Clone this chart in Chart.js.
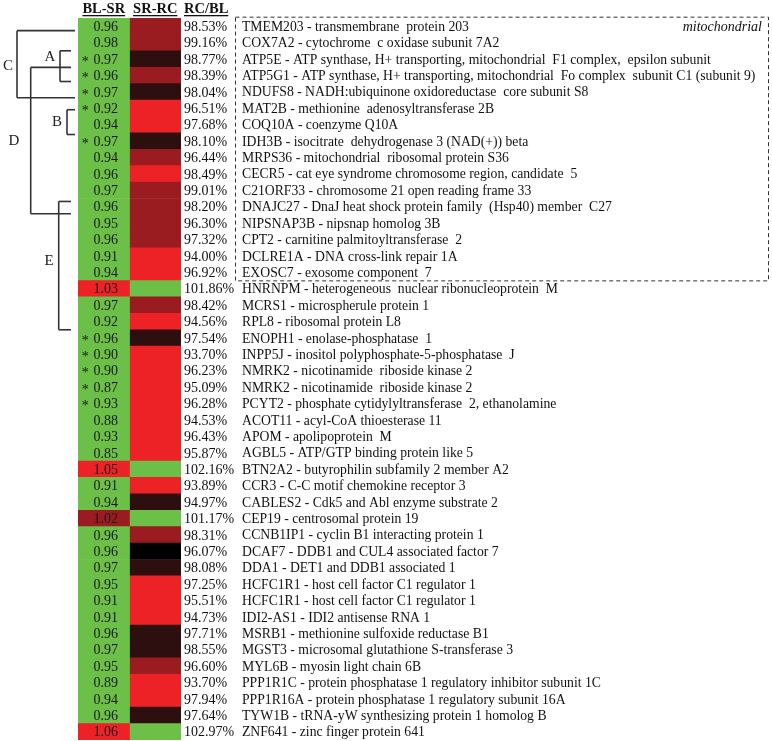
<!DOCTYPE html>
<html>
<head>
<meta charset="utf-8">
<script src="https://cdn.jsdelivr.net/npm/chart.js@4"></script>
<style>
  html, body { margin: 0; padding: 0; background: #fff; }
  #wrap { width: 772px; height: 741px; position: relative; }
</style>
</head>
<body>
<div id="wrap"><canvas id="heatChart" width="772" height="741"></canvas></div>
<script>
// 유전자 기호
const genes = [
  "TMEM203", "COX7A2", "ATP5E", "ATP5G1", "NDUFS8", "MAT2B", "COQ10A", "IDH3B",
  "MRPS36", "CECR5", "C21ORF33", "DNAJC27", "NIPSNAP3B", "CPT2", "DCLRE1A", "EXOSC7",
  "HNRNPM", "MCRS1", "RPL8", "ENOPH1", "INPP5J", "NMRK2", "NMRK2", "PCYT2",
  "ACOT11", "APOM", "AGBL5", "BTN2A2", "CCR3", "CABLES2", "CEP19", "CCNB1IP1",
  "DCAF7", "DDA1", "HCFC1R1", "HCFC1R1", "IDI2-AS1", "MSRB1", "MGST3", "MYL6B",
  "PPP1R1C", "PPP1R16A", "TYW1B", "ZNF641"
];

// 유전자 설명
const geneNames = [
  "transmembrane  protein 203",
  "cytochrome  c oxidase subunit 7A2",
  "ATP synthase, H+ transporting, mitochondrial  F1 complex,  epsilon subunit",
  "ATP synthase, H+ transporting, mitochondrial  Fo complex  subunit C1 (subunit 9)",
  "NADH:ubiquinone oxidoreductase  core subunit S8",
  "methionine  adenosyltransferase 2B",
  "coenzyme Q10A",
  "isocitrate  dehydrogenase 3 (NAD(+)) beta",
  "mitochondrial  ribosomal protein S36",
  "cat eye syndrome chromosome region, candidate  5",
  "chromosome 21 open reading frame 33",
  "DnaJ heat shock protein family  (Hsp40) member  C27",
  "nipsnap homolog 3B",
  "carnitine palmitoyltransferase  2",
  "DNA cross-link repair 1A",
  "exosome component  7",
  "heterogeneous  nuclear ribonucleoprotein  M",
  "microspherule protein 1",
  "ribosomal protein L8",
  "enolase-phosphatase  1",
  "inositol polyphosphate-5-phosphatase  J",
  "nicotinamide  riboside kinase 2",
  "nicotinamide  riboside kinase 2",
  "phosphate cytidylyltransferase  2, ethanolamine",
  "acyl-CoA thioesterase 11",
  "apolipoprotein  M",
  "ATP/GTP binding protein like 5",
  "butyrophilin subfamily 2 member A2",
  "C-C motif chemokine receptor 3",
  "Cdk5 and Abl enzyme substrate 2",
  "centrosomal protein 19",
  "cyclin B1 interacting protein 1",
  "DDB1 and CUL4 associated factor 7",
  "DET1 and DDB1 associated 1",
  "host cell factor C1 regulator 1",
  "host cell factor C1 regulator 1",
  "IDI2 antisense RNA 1",
  "methionine sulfoxide reductase B1",
  "microsomal glutathione S-transferase 3",
  "myosin light chain 6B",
  "protein phosphatase 1 regulatory inhibitor subunit 1C",
  "protein phosphatase 1 regulatory subunit 16A",
  "tRNA-yW synthesizing protein 1 homolog B",
  "zinc finger protein 641"
];

// BL-SR 비율
const blSr = [
  0.96, 0.98, 0.97, 0.96, 0.97, 0.92, 0.94, 0.97, 0.94, 0.96, 0.97, 0.96, 0.95, 0.96, 0.91, 0.94,
  1.03, 0.97, 0.92, 0.96, 0.90, 0.90, 0.87, 0.93, 0.88, 0.93, 0.85, 1.05, 0.91, 0.94, 1.02, 0.96,
  0.96, 0.97, 0.95, 0.91, 0.91, 0.96, 0.97, 0.95, 0.89, 0.94, 0.96, 1.06
];

// 유의 표시(*)
const significant = [
  false, false, true, true, true, true, false, true, false, false, false, false, false, false, false, false,
  false, false, false, true, true, true, true, true, false, false, false, false, false, false, false, false,
  false, false, false, false, false, false, false, false, false, false, false, false
];

// SR-RC 단계 (0 증가, 1~4 감소 정도)
const srRc = [
  2, 2, 3, 2, 3, 1, 1, 3, 2, 1, 2, 2, 2, 2, 1, 1,
  0, 2, 1, 3, 1, 1, 1, 1, 1, 1, 1, 0, 1, 3, 0, 2,
  4, 3, 1, 1, 1, 3, 3, 2, 1, 1, 3, 0
];

// RC/BL (%)
const rcBl = [
  98.53, 99.16, 98.77, 98.39, 98.04, 96.51, 97.68, 98.10, 96.44, 98.49, 99.01, 98.20, 96.30, 97.32, 94.00, 96.92,
  101.86, 98.42, 94.56, 97.54, 93.70, 96.23, 95.09, 96.28, 94.53, 96.43, 95.87, 102.16, 93.89, 94.97, 101.17, 98.31,
  96.07, 98.08, 97.25, 95.51, 94.73, 97.71, 98.55, 96.60, 93.70, 97.94, 97.64, 102.97
];

const GREEN = "#6cbf47";
const RED = "#ed2226";
const DARK = "#9a1b20";
const levelColors = [GREEN, RED, DARK, "#2d0f0f", "#000000"];

const blColor = (v) => (v < 1 ? GREEN : v < 1.03 ? DARK : RED);

const SERIF = "'Liberation Serif', 'Times New Roman', serif";

// 표 글자, 덴드로그램 그리기
const tablePlugin = {
  id: "tableText",
  afterDatasetsDraw(chart) {
    const ctx = chart.ctx;
    const xs = chart.scales.x;
    const ys = chart.scales.y;
    const rowY = (i) => ys.getPixelForValue(i);

    ctx.save();
    ctx.textBaseline = "middle";

    // 머리글
    ctx.fillStyle = "#111";
    ctx.font = "bold 14.5px " + SERIF;
    ctx.textAlign = "center";
    const heads = [
      ["BL-SR", xs.getPixelForValue(0.5)],
      ["SR-RC", xs.getPixelForValue(1.5)],
    ];
    heads.forEach(([t, cx]) => {
      ctx.fillText(t, cx, 9);
      const w = ctx.measureText(t).width;
      ctx.fillRect(cx - w / 2, 15, w, 1.3);
    });
    ctx.textAlign = "left";
    const rx = xs.getPixelForValue(2) + 3;
    ctx.fillText("RC/BL", rx, 9);
    ctx.fillRect(rx, 15, ctx.measureText("RC/BL").width, 1.3);

    // 행 글자
    for (let i = 0; i < genes.length; i++) {
      const y = rowY(i) + 1;
      ctx.font = "14px " + SERIF;
      ctx.fillStyle = "#1a1a1a";
      ctx.textAlign = "center";
      ctx.fillText(blSr[i].toFixed(2), xs.getPixelForValue(0.5) + 2, y);
      if (significant[i]) ctx.fillText("*", xs.getPixelForValue(0.14), y + 2);
      ctx.textAlign = "left";
      ctx.fillStyle = "#111";
      ctx.fillText(rcBl[i].toFixed(2) + "%", rx, y);
      ctx.font = "13.7px " + SERIF;
      ctx.fillText(genes[i] + " - " + geneNames[i], 242, y);
    }

    // mitochondrial 상자
    const boxTop = rowY(-0.55);
    const boxBottom = rowY(15.52);
    ctx.setLineDash([4, 3]);
    ctx.lineWidth = 1;
    ctx.strokeStyle = "#333";
    ctx.strokeRect(235.5, boxTop, 533, boxBottom - boxTop);
    ctx.setLineDash([]);
    ctx.font = "italic 14px " + SERIF;
    ctx.textAlign = "right";
    ctx.fillText("mitochondrial", 762, rowY(0) + 1);

    // 덴드로그램
    ctx.strokeStyle = "#333";
    ctx.lineWidth = 1.6;
    const line = (x1, r1, x2, r2) => {
      ctx.beginPath();
      ctx.moveTo(x1, rowY(r1));
      ctx.lineTo(x2, rowY(r2));
      ctx.stroke();
    };
    // C
    line(17, 0.27, 17, 4.36);
    line(17, 0.27, 75, 0.27);
    line(17, 4.36, 75, 4.36);
    // A
    line(60, 1.5, 60, 3.37);
    line(60, 1.5, 71, 1.5);
    line(60, 3.37, 71, 3.37);
    line(30.7, 2.51, 71, 2.51);
    // D
    line(30.7, 2.51, 30.7, 11.43);
    line(30.7, 11.43, 71, 11.43);
    // B
    line(67, 5.09, 67, 6.6);
    line(67, 5.09, 75, 5.09);
    line(67, 6.6, 75, 6.6);
    // E
    line(58.7, 10.68, 58.7, 18.5);
    line(58.7, 10.68, 71, 10.68);
    line(58.7, 18.5, 71, 18.5);

    ctx.fillStyle = "#222";
    ctx.font = "15px " + SERIF;
    ctx.textAlign = "center";
    [["C", 8, 2.45], ["A", 50, 1.9], ["D", 14, 6.98], ["B", 57, 5.82], ["E", 49, 14.34]].forEach(
      ([t, x, r]) => ctx.fillText(t, x, rowY(r))
    );
    ctx.restore();
  },
};

const ctx = document.getElementById("heatChart").getContext("2d");
const myChart = new Chart(ctx, {
  type: "bar",
  data: {
    labels: genes,
    datasets: [
      {
        label: "BL-SR",
        data: blSr.map(() => [0, 1]),
        backgroundColor: blSr.map(blColor),
        borderWidth: 0,
      },
      {
        label: "SR-RC",
        data: srRc.map(() => [1, 2]),
        backgroundColor: srRc.map((l) => levelColors[l]),
        borderWidth: 0,
      },
    ],
  },
  options: {
    indexAxis: "y",
    responsive: false,
    animation: false,
    grouped: false,
    categoryPercentage: 1,
    barPercentage: 1,
    layout: { padding: { left: 78, right: 591, top: 18, bottom: 1 } },
    plugins: { legend: { display: false }, tooltip: { enabled: false } },
    scales: {
      x: { display: false, min: 0, max: 2 },
      y: { display: false },
    },
  },
  plugins: [tablePlugin],
});
</script>
</body>
</html>
